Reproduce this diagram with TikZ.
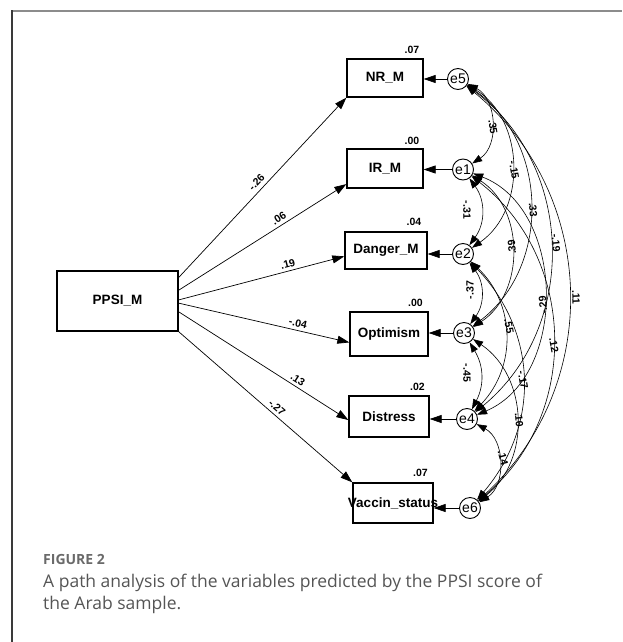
\documentclass[tikz,border=0pt]{standalone}
\usepackage{fontspec}
\setmainfont{Liberation Sans}
\newfontfamily\capfont{Open Sans}
\usetikzlibrary{arrows.meta}

\definecolor{framedark}{HTML}{3A3A3A}
\definecolor{framegray}{HTML}{8C8C8C}
\definecolor{captext}{HTML}{555555}
\definecolor{caphead}{HTML}{6A6A6A}

\tikzset{
  varbox/.style={draw, line width=1.3pt, inner sep=0pt, font=\fontsize{13.5}{15}\selectfont\bfseries},
  errc/.style={draw, circle, line width=0.9pt, minimum size=21pt, inner sep=0pt, font=\fontsize{14}{16}\selectfont},
  tipA/.style={-{Triangle[length=12pt,width=8pt]}},
  path/.style={line width=0.7pt, tipA},
  cov/.style={line width=0.6pt, {Triangle[length=10pt,width=7pt]}-{Triangle[length=10pt,width=7pt]}, bend left=#1, looseness=1.05},
  coef/.style={font=\fontsize{10.5}{12}\selectfont\bfseries, inner sep=1pt},
  rsq/.style={font=\fontsize{10.5}{12}\selectfont\bfseries, inner sep=0pt},
}

\begin{document}
\begin{tikzpicture}[x=1pt,y=-1pt]
\useasboundingbox (0,0) rectangle (622,642);

% page frame
\draw[framegray, line width=1.6pt] (12,11) -- (622,11);
\draw[framedark, line width=1.2pt] (12,10.2) -- (12,642);

% observed variables
\node[varbox, minimum width=121pt, minimum height=60pt] (ppsi) at (117.5,301) {PPSI\_M};
\node[varbox, minimum width=76pt, minimum height=38pt] (nr) at (385,78) {NR\_M};
\node[varbox, minimum width=76pt, minimum height=39pt] (ir) at (385,168.5) {IR\_M};
\node[varbox, minimum width=82pt, minimum height=37pt] (dng) at (386,250.5) {Danger\_M};
\node[varbox, minimum width=78pt, minimum height=44pt] (opt) at (389,334) {Optimism};
\node[varbox, minimum width=80pt, minimum height=41pt] (dis) at (389,416.5) {Distress};
\node[varbox, minimum width=80pt, minimum height=40pt] (vac) at (393,503) {\makebox[0pt]{Vaccin\_status}};

% squared multiple correlations
\node[rsq] (r2nr) at (412,50) {.07};
\node[rsq] (r2ir) at (412,140.5) {.00};
\node[rsq] (r2dng) at (414,221.5) {.04};
\node[rsq] (r2opt) at (415.5,302.5) {.00};
\node[rsq] (r2dis) at (417.5,386.5) {.02};
\node[rsq] (r2vac) at (420.5,473) {.07};

% error terms
\node[errc] (e5) at (458,79) {e5};
\node[errc] (e1) at (463,169.5) {e1};
\node[errc] (e2) at (463,254) {e2};
\node[errc] (e3) at (464,333) {e3};
\node[errc] (e4) at (467,419) {e4};
\node[errc] (e6) at (470,508) {e6};

% regression paths
\draw[path] (ppsi.21) -- (nr.south west) node[coef, pos=0.50, sloped, above=3pt] {-.26};
\draw[path] (ppsi.10) -- (ir.202) node[coef, pos=0.62, sloped, above=2pt] {.06};
\draw[path] (ppsi.1) -- (dng.188) node[coef, pos=0.67, sloped, above=2pt] {.19};
\draw[path] (ppsi.-2) -- (opt.192) node[coef, pos=0.69, sloped, above=2pt] {-.04};
\draw[path] (ppsi.-10) -- (dis.185) node[coef, pos=0.68, sloped, above=2pt] {.13};
\draw[path] (ppsi.south east) -- (vac.north west) node[coef, pos=0.54, sloped, above=2pt] {-.27};

% error to variable
\draw[path] (e5.west) -- (e5.west -| nr.east);
\draw[path] (e1.west) -- (e1.west -| ir.east);
\draw[path] (e2.west) -- (e2.west -| dng.east);
\draw[path] (e3.west) -- (e3.west -| opt.east);
\draw[path] (e4.west) -- (e4.west -| dis.east);
\draw[path] (e6.west) -- (e6.west -| vac.east);

% error covariances
\draw[cov=60] (e5) to (e1);
\draw[cov=57] (e5) to (e2);
\draw[cov=54] (e5) to (e3);
\draw[cov=52] (e5) to (e4);
\draw[cov=49] (e5) to (e6);
\draw[cov=36] (e1) to (e2);
\draw[cov=57] (e1) to (e3);
\draw[cov=68] (e1) to (e4);
\draw[cov=51] (e1) to (e6);
\draw[cov=36] (e2) to (e3);
\draw[cov=45] (e2) to (e4);
\draw[cov=42] (e2) to (e6);
\draw[cov=29] (e3) to (e4);
\draw[cov=54] (e3) to (e6);
\draw[cov=60] (e4) to (e6);

% covariance estimates
\node[coef, rotate=-82] (c51) at (493,127) {.35};
\node[coef, rotate=-80] (c52) at (514,170) {-.15};
\node[coef, rotate=-85] (c53) at (533,210) {.33};
\node[coef, rotate=-85] (c54) at (556,243) {-.19};
\node[coef, rotate=-88] (c56) at (576,297) {.11};
\node[coef, rotate=-90] (c12) at (467,210) {-.31};
\node[coef, rotate=95] (c13) at (512,247) {.39};
\node[coef, rotate=95] (c14) at (543,305) {-.29};
\node[coef, rotate=-80] (c16) at (554,345) {.12};
\node[coef, rotate=90] (c23) at (470,290) {-.37};
\node[coef, rotate=-80] (c24) at (509,326) {.55};
\node[coef, rotate=-80] (c26) at (523,380) {-.17};
\node[coef, rotate=-90] (c34) at (467,373) {-.45};
\node[coef, rotate=-85] (c36) at (519,420) {.10};
\node[coef, rotate=-75] (c46) at (503,458) {.14};

% caption
\node[anchor=base west, inner sep=0pt, text=caphead, font=\capfont\fontsize{14}{16}\selectfont\bfseries] (fig) at (43,564) {FIGURE 2};
\node[anchor=base west, inner sep=0pt, text=captext, font=\capfont\fontsize{17.5}{20}\selectfont] (cap1) at (43,587) {A path analysis of the variables predicted by the PPSI score of};
\node[anchor=base west, inner sep=0pt, text=captext, font=\capfont\fontsize{17.5}{20}\selectfont] (cap2) at (43,609) {the Arab sample.};
\end{tikzpicture}
\end{document}
